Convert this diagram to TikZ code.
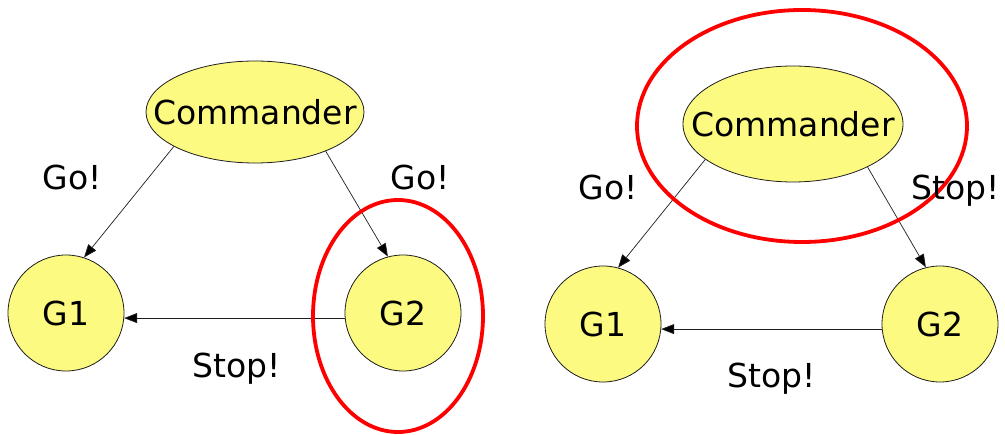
\documentclass[tikz,border=0pt]{standalone}
\usepackage{fontspec}
\setmainfont{DejaVu Sans}
\usetikzlibrary{shapes.geometric,arrows.meta}
\definecolor{nodeyellow}{RGB}{252,250,128}
\definecolor{edgegray}{RGB}{30,30,30}
\tikzset{
  x=1pt, y=-1pt,
  txt/.style={font=\fontsize{33}{40}\selectfont, inner sep=0pt},
  cmdbox/.style={ellipse, draw=edgegray, line width=0.8pt, fill=nodeyellow, inner sep=0pt,
     minimum width=218pt, minimum height=102pt, font=\fontsize{33}{40}\selectfont},
  gen/.style={circle, draw=edgegray, line width=0.8pt, fill=nodeyellow, inner sep=0pt,
     minimum size=116pt, font=\fontsize{33}{40}\selectfont},
  redring/.style={ellipse, draw=red, line width=3.8pt, inner sep=0pt},
  msg/.style={draw=edgegray, line width=0.7pt, -{Triangle[length=13pt,width=10pt,fill=black]}},
}
\begin{document}
\begin{tikzpicture}
\useasboundingbox (0,0) rectangle (1005,435);
\fill[white] (0,0) rectangle (1005,435);

% left diagram
\node[cmdbox] (cmdL) at (255,112) {\makebox[0pt]{Commander}};
\node[gen] (g1L) at (66,313) {G1};
\node[gen] (g2L) at (403,313) {G2};
\draw[msg] (cmdL.203) -- (g1L.72);
\draw[msg] (cmdL.331) -- (g2L.105);
\draw[msg] (g2L.185) -- (g1L.355);
\node[redring, minimum width=170pt, minimum height=232pt] (ringL) at (398,316) {};
\node[txt, anchor=base] (goL1) at (72,190) {Go!};
\node[txt, anchor=base] (goL2) at (420,190) {Go!};
\node[txt, anchor=base] (stopL) at (237,378) {Stop!};

% right diagram
\node[cmdbox, minimum width=220pt, minimum height=116pt] (cmdR) at (793,124) {\makebox[0pt]{Commander}};
\node[gen] (g1R) at (603,324) {G1};
\node[gen] (g2R) at (940,324) {G2};
\draw[msg] (cmdR.202) -- (g1R.75);
\draw[msg] (cmdR.330) -- (g2R.104);
\draw[msg] (g2R.185) -- (g1R.355);
\node[redring, minimum width=330pt, minimum height=232pt] (ringR) at (802,126) {};
\node[txt, anchor=base] (goR) at (608,200) {Go!};
\node[txt, anchor=base] (stopR1) at (956,200) {Stop!};
\node[txt, anchor=base] (stopR2) at (772,388) {Stop!};
\end{tikzpicture}
\end{document}
